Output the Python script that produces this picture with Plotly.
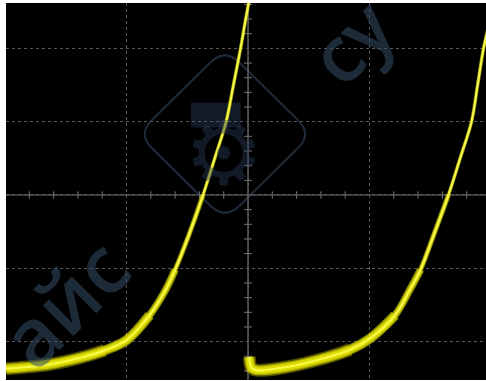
import plotly.graph_objects as go

# Oscilloscope trace, in screen divisions (x: time div, y: volt div)
sweep1_x = [-1.99, -1.84, -1.63, -1.38, -1.18, -1.00, -0.81, -0.68, -0.60, -0.49, -0.37, -0.27, -0.18, -0.12, -0.06, -0.02, 0.01]
sweep1_y = [-2.37, -2.35, -2.31, -2.22, -2.12, -1.98, -1.64, -1.30, -1.02, -0.56, 0.00, 0.52, 1.00, 1.50, 2.01, 2.39, 2.66]

sweep2_x = [0.01, 0.03, 0.07, 0.31, 0.64, 0.84, 1.01, 1.21, 1.33, 1.42, 1.53, 1.65, 1.75, 1.84, 1.89, 1.94, 1.98]
sweep2_y = [-2.21, -2.36, -2.39, -2.35, -2.22, -2.11, -1.95, -1.64, -1.30, -1.02, -0.54, 0.00, 0.52, 1.00, 1.50, 2.01, 2.30]

X_RANGE = [-1.992, 1.959]
Y_RANGE = [-2.524, 2.619]

fig = go.Figure()

WM = "rgba(52,78,104,0.55)"
# faint watermark + logo (drawn beneath the trace)
fig.add_annotation(text="айс", x=-1.52, y=-1.45, xref="x", yref="y", showarrow=False,
                   textangle=-45, font=dict(family="Open Sans", size=80, color=WM, weight=600))
fig.add_annotation(text="су", x=0.84, y=2.10, xref="x", yref="y", showarrow=False,
                   textangle=-45, font=dict(family="Open Sans", size=78, color=WM, weight=600))
fig.add_annotation(text="⚙", x=-0.20, y=0.56, xref="x", yref="y", showarrow=False,
                   font=dict(family="DejaVu Sans", size=88, color="rgba(40,58,86,0.45)"))
fig.add_shape(type="rect", x0=-0.47, x1=-0.06, y0=0.92, y1=1.26,
              fillcolor="rgba(40,58,86,0.45)", line=dict(width=0), layer="below")

# rounded diamond outline of logo
cx, cy = -0.19, 0.83
hw, hh = 0.72, 1.17
r = 0.12
path = (f"M {cx-hw+r},{cy-r*1.6} L {cx-r},{cy-hh+r*1.6} Q {cx},{cy-hh} {cx+r},{cy-hh+r*1.6} "
        f"L {cx+hw-r},{cy-r*1.6} Q {cx+hw},{cy} {cx+hw-r},{cy+r*1.6} "
        f"L {cx+r},{cy+hh-r*1.6} Q {cx},{cy+hh} {cx-r},{cy+hh-r*1.6} "
        f"L {cx-hw+r},{cy+r*1.6} Q {cx-hw},{cy} {cx-hw+r},{cy-r*1.6} Z")
fig.add_shape(type="path", path=path, line=dict(color="rgba(52,72,96,0.6)", width=2), layer="below")

# centre graticule lines with subdivision ticks
CL = "#767676"
fig.add_shape(type="line", x0=X_RANGE[0], x1=X_RANGE[1], y0=0, y1=0,
              line=dict(color=CL, width=1.2), layer="below")
fig.add_shape(type="line", x0=0, x1=0, y0=Y_RANGE[0], y1=Y_RANGE[1],
              line=dict(color=CL, width=1.2), layer="below")
for k in range(-10, 11):
    xv = k * 0.2
    if X_RANGE[0] < xv < X_RANGE[1] and k % 5 != 0:
        fig.add_shape(type="line", x0=xv, x1=xv, y0=-0.05, y1=0.05,
                      line=dict(color=CL, width=1), layer="below")
for k in range(-13, 14):
    yv = k * 0.2
    if Y_RANGE[0] < yv < Y_RANGE[1] and k % 5 != 0:
        fig.add_shape(type="line", x0=-0.033, x1=0.033, y0=yv, y1=yv,
                      line=dict(color=CL, width=1), layer="below")

# trace: intensity-graded glow on the slow part, thin core everywhere
layers = [(-2.1, 13, "rgba(220,220,0,0.35)"),
          (-1.6, 10, "rgba(232,232,0,0.6)"),
          (-0.9, 7.5, "rgba(236,236,0,0.6)"),
          (0.1, 5, "rgba(236,236,0,0.55)")]
for xs, ys in [(sweep1_x, sweep1_y), (sweep2_x, sweep2_y)]:
    for lim, w, col in layers:
        gx = [x for x, y in zip(xs, ys) if y <= lim]
        gy = [y for y in ys if y <= lim]
        fig.add_trace(go.Scatter(x=gx, y=gy, mode="lines", line=dict(color=col, width=w, shape="spline"),
                                 hoverinfo="skip", showlegend=False))
    fig.add_trace(go.Scatter(x=xs, y=ys, mode="lines", line=dict(color="rgba(225,225,0,0.6)", width=3.6, shape="spline"),
                             hoverinfo="skip", showlegend=False))
    fig.add_trace(go.Scatter(x=xs, y=ys, mode="lines", line=dict(color="#f8f84a", width=2.2, shape="spline"),
                             hoverinfo="skip", showlegend=False))

axis_common = dict(showticklabels=False, ticks="", zeroline=False, showline=False,
                   showgrid=True, gridcolor="#585858", griddash="dot", gridwidth=1,
                   dtick=1, tick0=0, fixedrange=True)
fig.update_xaxes(range=X_RANGE, **axis_common)
fig.update_yaxes(range=Y_RANGE, **axis_common)

fig.update_layout(width=486, height=381, margin=dict(l=6, r=0, t=3, b=1),
                  paper_bgcolor="white", plot_bgcolor="black", showlegend=False)

fig.write_html("out.html", config={"displayModeBar": False},
               post_script="document.body.style.margin='0';")
